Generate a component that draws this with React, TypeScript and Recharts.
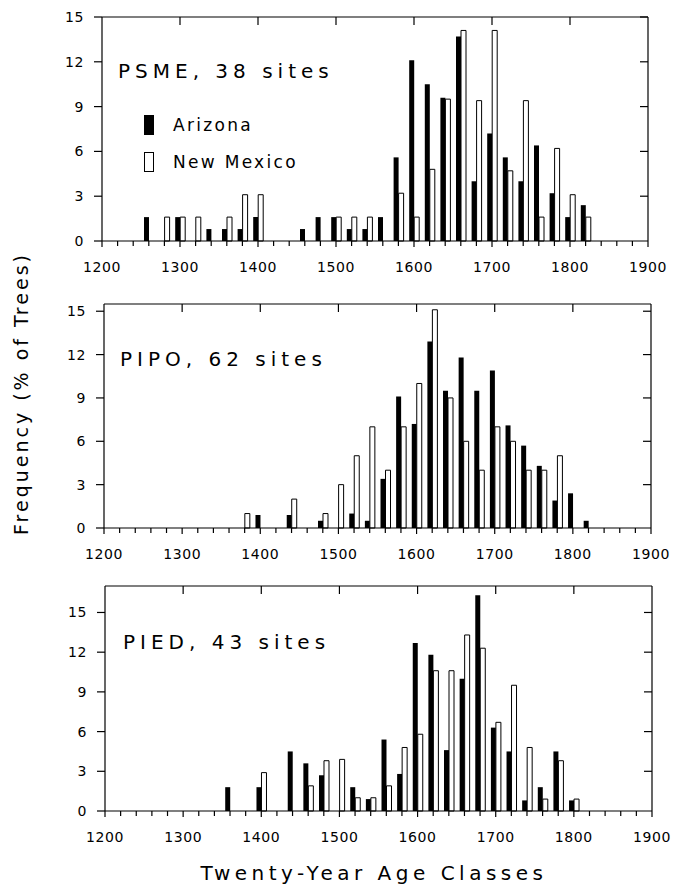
import { Bar, BarChart, Legend, XAxis, YAxis } from "recharts";

const FONT = "'DejaVu Sans', sans-serif";
const W = 677;
const H = 894;

// twenty-year age classes (start year of class)
const ageClasses = [
  1260, 1280, 1300, 1320, 1340, 1360, 1380, 1400, 1420, 1440, 1460, 1480, 1500, 1520, 1540,
  1560, 1580, 1600, 1620, 1640, 1660, 1680, 1700, 1720, 1740, 1760, 1780, 1800, 1820,
];

const psmeArizona = [
  1.6, 0, 1.6, 0, 0.8, 0.8, 0.8, 1.6, 0, 0, 0.8, 1.6, 1.6, 0.8, 0.8,
  1.6, 5.6, 12.1, 10.5, 9.6, 13.7, 4.0, 7.2, 5.6, 4.0, 6.4, 3.2, 1.6, 2.4,
];
const psmeNewMexico = [
  0, 1.6, 1.6, 1.6, 0, 1.6, 3.1, 3.1, 0, 0, 0, 0, 1.6, 1.6, 1.6,
  0, 3.2, 1.6, 4.8, 9.5, 14.1, 9.4, 14.1, 4.7, 9.4, 1.6, 6.2, 3.1, 1.6,
];

const pipoArizona = [
  0, 0, 0, 0, 0, 0, 0, 0.9, 0, 0.9, 0, 0.5, 0, 1.0, 0.5,
  3.4, 9.1, 7.2, 12.9, 9.5, 11.8, 9.5, 10.9, 7.1, 5.7, 4.3, 1.9, 2.4, 0.5,
];
const pipoNewMexico = [
  0, 0, 0, 0, 0, 0, 1.0, 0, 0, 2.0, 0, 1.0, 3.0, 5.0, 7.0,
  4.0, 7.0, 10.0, 15.1, 9.0, 6.0, 4.0, 7.0, 6.0, 4.0, 4.0, 5.0, 0, 0,
];

const piedArizona = [
  0, 0, 0, 0, 0, 1.8, 0, 1.8, 0, 4.5, 3.6, 2.7, 0, 1.8, 0.9,
  5.4, 2.8, 12.7, 11.8, 4.6, 10.0, 16.3, 6.3, 4.5, 0.8, 1.8, 4.5, 0.8, 0,
];
const piedNewMexico = [
  0, 0, 0, 0, 0, 0, 0, 2.9, 0, 0, 1.9, 3.8, 3.9, 1.0, 1.0,
  1.9, 4.8, 5.8, 10.6, 10.6, 13.3, 12.3, 6.7, 9.5, 4.8, 0.9, 3.8, 0.9, 0,
];

const classTicks = [
  1200, 1220, 1240, 1260, 1280, 1300, 1320, 1340, 1360, 1380, 1400, 1420, 1440, 1460, 1480,
  1500, 1520, 1540, 1560, 1580, 1600, 1620, 1640, 1660, 1680, 1700, 1720, 1740, 1760, 1780,
  1800, 1820, 1840, 1860, 1880, 1900,
];
const freqTicks = [0, 3, 6, 9, 12, 15];

const Y_TICK = 8;
const Y_GAP = 10;

// bottom ticks; also draws the top/right frame and the top inward notches
const makeBottomTick = (plotW: number, plotH: number) => (props: any) => {
  const x = Number(props.x);
  const y = Number(props.y);
  const v = props.payload.value;
  const major = v % 100 === 0;
  const top = y - plotH;
  return (
    <g key={`b${v}`} stroke="#000" strokeWidth={1.2}>
      <line x1={x} x2={x} y1={y} y2={y + (major ? 6 : 5)} />
      {major && v > 1200 && v < 1900 && <line x1={x} x2={x} y1={top} y2={top + 8} />}
      {v === 1200 && <line x1={x} x2={x + plotW} y1={top} y2={top} />}
      {v === 1900 && <line x1={x} x2={x} y1={top} y2={y} />}
      {major && (
        <text
          x={x}
          y={y + 31}
          textAnchor="middle"
          fontSize={14}
          fontFamily={FONT}
          letterSpacing={0.6}
          fill="#000"
          stroke="none"
        >
          {v}
        </text>
      )}
    </g>
  );
};

// left labels plus inward notches on the right frame
const makeLeftTick = (plotW: number) => (props: any) => {
  const x = Number(props.x);
  const y = Number(props.y);
  const v = props.payload.value;
  const right = x + Y_TICK + Y_GAP + plotW;
  return (
    <g key={`l${v}`}>
      <text x={x} y={y} dy="0.355em" textAnchor="end" fontSize={14} fontFamily={FONT} letterSpacing={0.6} fill="#000">
        {v}
      </text>
      {v > 0 && <line x1={right} x2={right - 8} y1={y} y2={y} stroke="#000" strokeWidth={1.2} />}
    </g>
  );
};

const LegendKey = ({ payload }: any) => (
  <div>
    {(payload ?? []).map((entry: any, i: number) => (
      <div key={entry.value} style={{ display: "flex", alignItems: "center", height: 20, marginBottom: 17 }}>
        <span
          style={{
            width: 10,
            height: 20,
            boxSizing: "border-box",
            background: i === 0 ? "#000" : "#fff",
            border: "1px solid #000",
          }}
        />
        <span style={{ marginLeft: 19, fontSize: 17, letterSpacing: 2.3, fontFamily: FONT, color: "#000" }}>
          {entry.value}
        </span>
      </div>
    ))}
  </div>
);

type Box = { left: number; right: number; top: number; bottom: number };

const PAD_TOP = 16;
const AXIS_H = 44;

function AgePanel({
  arizona,
  newMexico,
  yMax,
  box,
  legend = false,
}: {
  arizona: number[];
  newMexico: number[];
  yMax: number;
  box: Box;
  legend?: boolean;
}) {
  const data = ageClasses.map((year, i) => ({ year, arizona: arizona[i], newMexico: newMexico[i] }));
  const chartTop = box.top - PAD_TOP;
  const chartH = box.bottom - box.top + PAD_TOP + AXIS_H;
  const plotW = box.right - box.left;
  const plotH = box.bottom - box.top;
  return (
    <div style={{ position: "absolute", left: 0, top: chartTop }}>
      <BarChart
        width={W}
        height={chartH}
        data={data}
        barGap={0}
        margin={{ top: PAD_TOP, left: box.left - 40, right: W - box.right, bottom: 0 }}
      >
        <XAxis
          dataKey="year"
          type="number"
          domain={[1200, 1900]}
          ticks={classTicks}
          interval={0}
          tick={makeBottomTick(plotW, plotH)}
          tickLine={false}
          tickSize={0}
          tickMargin={0}
          height={AXIS_H}
          stroke="#000"
          strokeWidth={1.2}
        />
        <YAxis
          type="number"
          domain={[0, yMax]}
          ticks={freqTicks}
          interval={0}
          tickSize={Y_TICK}
          tickMargin={Y_GAP}
          width={40}
          stroke="#000"
          strokeWidth={1.2}
          tick={makeLeftTick(plotW)}
        />
        {legend && (
          <Legend
            layout="vertical"
            align="center"
            verticalAlign="middle"
            content={<LegendKey />}
            wrapperStyle={{ left: 144, top: 115 - chartTop, width: 200 }}
          />
        )}
        <Bar dataKey="arizona" name="Arizona" fill="#000" barSize={5} isAnimationActive={false} />
        <Bar
          dataKey="newMexico"
          name="New Mexico"
          fill="#fff"
          stroke="#000"
          strokeWidth={1}
          barSize={5}
          isAnimationActive={false}
        />
      </BarChart>
    </div>
  );
}

export default function App() {
  return (
    <div style={{ position: "absolute", left: 0, top: 0, width: W, height: H, background: "#fff" }}>
      <AgePanel
        arizona={psmeArizona}
        newMexico={psmeNewMexico}
        yMax={15}
        box={{ left: 102, right: 648, top: 17, bottom: 241 }}
        legend
      />
      <AgePanel
        arizona={pipoArizona}
        newMexico={pipoNewMexico}
        yMax={15.5}
        box={{ left: 104, right: 651, top: 304, bottom: 528 }}
      />
      <AgePanel
        arizona={piedArizona}
        newMexico={piedNewMexico}
        yMax={17}
        box={{ left: 105, right: 652, top: 586, bottom: 811 }}
      />
      <svg
        width={W}
        height={H}
        style={{ position: "absolute", left: 0, top: 0, pointerEvents: "none" }}
        fontFamily={FONT}
        fill="#000"
      >
        <text x={118} y={78} fontSize={20} letterSpacing={5}>PSME, 38 sites</text>
        <text x={120} y={366} fontSize={20} letterSpacing={5}>PIPO, 62 sites</text>
        <text x={123} y={649} fontSize={20} letterSpacing={5}>PIED, 43 sites</text>
        <text x={374} y={880} fontSize={20} letterSpacing={4.5} textAnchor="middle">
          Twenty-Year Age Classes
        </text>
        <text transform="translate(28, 535) rotate(-90)" fontSize={19} letterSpacing={3}>
          Frequency (% of Trees)
        </text>
      </svg>
    </div>
  );
}
